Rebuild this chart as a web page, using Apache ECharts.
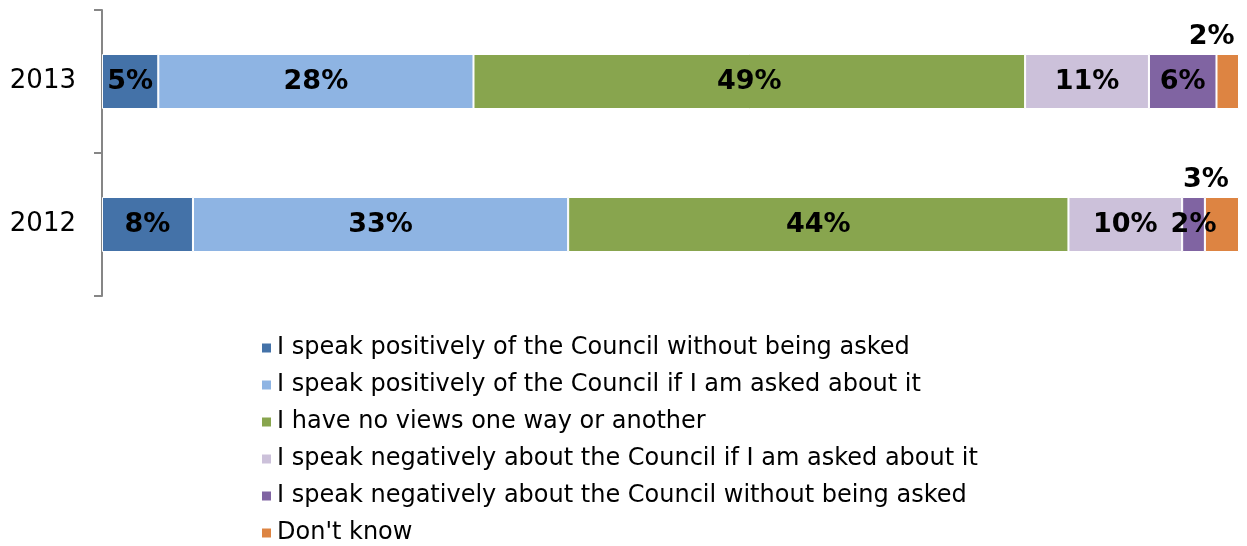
<!DOCTYPE html>
<html>
<head>
<meta charset="utf-8">
<script src="https://cdn.jsdelivr.net/npm/echarts@6/dist/echarts.min.js"></script>
<style>
html,body{margin:0;padding:0;background:#fff;}
#chart{width:1247px;height:546px;}
</style>
</head>
<body>
<div id="chart"></div>
<script>
const categories = ['2013', '2012'];
const seriesNames = [
  'I speak positively of the Council without being asked',
  'I speak positively of the Council if I am asked about it',
  'I have no views one way or another',
  'I speak negatively about the Council if I am asked about it',
  'I speak negatively about the Council without being asked',
  "Don't know"
];
const posUnasked = [5, 8];
const posAsked = [28, 33];
const noViews = [49, 44];
const negAsked = [11, 10];
const negUnasked = [6, 2];
const dontKnow = [2, 3];
const colors = ['#4472A8', '#8EB4E3', '#88A54E', '#CCC1DA', '#8064A2', '#DD8442'];

const raw = [posUnasked, posAsked, noViews, negAsked, negUnasked, dontKnow];
const totals = categories.map((c, i) => raw.reduce((s, arr) => s + arr[i], 0));

const FONT = '"DejaVu Sans", Verdana, sans-serif';

const series = raw.map((arr, si) => {
  const isLast = si === raw.length - 1;
  return {
    name: seriesNames[si],
    type: 'bar',
    stack: 'total',
    barWidth: 55,
    itemStyle: { color: colors[si], borderColor: '#ffffff', borderWidth: 1 },
    label: {
      show: true,
      position: isLast ? 'top' : 'inside',
      offset: isLast ? [-16, 1] : [0, 0],
      color: '#000',
      fontFamily: FONT,
      fontWeight: 'bold',
      fontSize: 27,
      formatter: p => arr[p.dataIndex] + '%'
    },
    data: arr.map((v, i) => v / totals[i] * 100)
  };
});

const chart = echarts.init(document.getElementById('chart'));
chart.setOption({
  animation: false,
  textStyle: { fontFamily: FONT },
  grid: { left: 102, right: 8, top: 10, bottom: 250, containLabel: false },
  xAxis: {
    type: 'value', min: 0, max: 100, show: false
  },
  yAxis: {
    type: 'category',
    inverse: true,
    data: categories,
    axisLine: { show: true, lineStyle: { color: '#868686', width: 2 } },
    axisTick: { show: true, length: 8, lineStyle: { color: '#868686', width: 2 } },
    axisLabel: { color: '#000', fontSize: 26, fontFamily: FONT, margin: 26 },
    splitLine: { show: false }
  },
  legend: {
    orient: 'vertical',
    left: 260,
    top: 336,
    padding: 0,
    itemWidth: 11,
    itemHeight: 11,
    itemGap: 13,
    icon: 'rect',
    textStyle: { color: '#000', fontSize: 24, fontFamily: FONT },
    data: seriesNames
  },
  series: series
});
</script>
</body>
</html>
